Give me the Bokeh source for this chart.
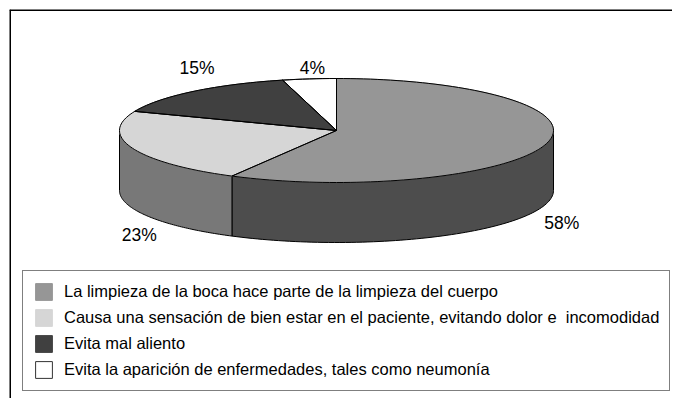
import math
from bokeh.plotting import figure
from bokeh.models import Range1d, Legend, LegendItem, Span
from bokeh.core.properties import value
from bokeh.embed import file_html
from bokeh.resources import INLINE

# ---- data ----
categories = [
    "La limpieza de la boca hace parte de la limpieza del cuerpo",
    "Causa una sensación de bien estar en el paciente, evitando dolor e  incomodidad",
    "Evita mal aliento",
    "Evita la aparición de enfermedades, tales como neumonía",
]
percent = [58, 23, 15, 4]

# ---- style ----
top_colors = ["#969696", "#d6d6d6", "#404040", "#ffffff"]
side_colors = ["#4d4d4d", "#787878", "#202020", "#bbbbbb"]
swatch_line = ["#969696", "#d6d6d6", "#404040", "#333333"]
label_offsets = [(15, 20), (7, 27), (4, -23), (3, -11)]

FONT = "Liberation Sans"
W, H = 672, 398
MB_L, MB_T = 9, 9
cx, cy = 337, 131      # pie centre (page px)
rx, ry = 217, 52       # ellipse radii
depth = 60             # thickness of the pie

x0, y0 = 10, 10
p = figure(width=W, height=H, output_backend="svg", toolbar_location=None,
           x_range=Range1d(x0, x0 + W - MB_L), y_range=Range1d(y0 + H - MB_T, y0),
           min_border_left=MB_L, min_border_top=MB_T, min_border_right=0, min_border_bottom=0)
p.axis.visible = False
p.grid.visible = False
p.outline_line_color = None
p.background_fill_color = "white"
p.border_fill_color = "white"

# outer frame (top and left edges visible in the reference)
p.add_layout(Span(location=x0 + 0.5, dimension="height", line_color="black", line_width=2))
p.add_layout(Span(location=y0 + 0.5, dimension="width", line_color="black", line_width=2))

def pt(theta, dz=0.0):
    return cx + rx * math.cos(theta), cy - ry * math.sin(theta) + dz

total = sum(percent)
starts, ends = [], []
a = math.pi / 2
for v in percent:
    sweep = 2 * math.pi * v / total
    starts.append(a - sweep)
    ends.append(a)
    a -= sweep

# side faces (front half only)
side_xs, side_ys, side_c = [], [], []
for i in range(len(percent)):
    lo, hi = starts[i], ends[i]
    for base in (-2 * math.pi, 0.0, 2 * math.pi):
        f_lo, f_hi = math.pi + base, 2 * math.pi + base
        s, e = max(lo, f_lo), min(hi, f_hi)
        if e > s:
            n = 80
            ths = [s + (e - s) * k / n for k in range(n + 1)]
            top = [pt(t) for t in ths]
            bot = [pt(t, depth) for t in reversed(ths)]
            side_xs.append([q[0] for q in top + bot])
            side_ys.append([q[1] for q in top + bot])
            side_c.append(side_colors[i])
p.patches(xs=side_xs, ys=side_ys, fill_color=side_c, line_color="black", line_width=1)

# top faces
top_xs, top_ys = [], []
for i in range(len(percent)):
    n = max(8, int(200 * percent[i] / total))
    ths = [ends[i] - (ends[i] - starts[i]) * k / n for k in range(n + 1)]
    pts = [(cx, cy)] + [pt(t) for t in ths] + [(cx, cy)]
    top_xs.append([q[0] for q in pts])
    top_ys.append([q[1] for q in pts])
tops = p.patches(xs=top_xs, ys=top_ys, fill_color=top_colors, line_color=swatch_line, line_width=1)
p.multi_line(xs=top_xs, ys=top_ys, line_color="black", line_width=1)

# labels
lx, ly, lt = [], [], []
for i, v in enumerate(percent):
    mid = (starts[i] + ends[i]) / 2
    x, y = pt(mid, depth if math.sin(mid) < 0 else 0)
    lx.append(x + label_offsets[i][0])
    ly.append(y + label_offsets[i][1])
    lt.append(f"{v}%")
p.text(x=lx, y=ly, text=lt, text_align="center", text_baseline="middle",
       text_font=value(FONT), text_font_size="17.5px", text_color="black")

# legend
items = [LegendItem(label=c, renderers=[tops], index=i) for i, c in enumerate(categories)]
legend = Legend(items=items, location=(13, 7), margin=0, padding=10,
                glyph_width=21, glyph_height=21, label_standoff=10,
                label_height=21, spacing=5,
                label_text_font=FONT, label_text_font_size="16.5px",
                label_text_color="black",
                border_line_color="black", border_line_width=1,
                background_fill_color="white", background_fill_alpha=1)
p.add_layout(legend, "center")

open("out.html", "w").write(file_html(p, INLINE))
